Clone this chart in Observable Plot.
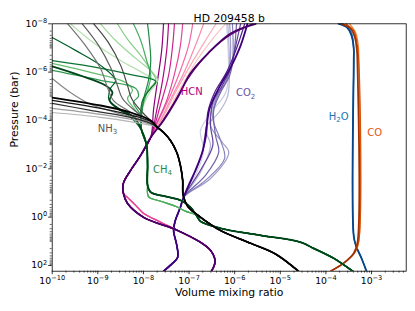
<!DOCTYPE html>
<html><head><meta charset="utf-8">
<script src="https://cdn.jsdelivr.net/npm/d3@7"></script>
<script src="https://cdn.jsdelivr.net/npm/@observablehq/plot@0.6"></script>
<style>body{margin:0;background:#fff}svg{display:block}</style>
</head><body><div id="chart"></div>
<script>
// Values are [log10 volume mixing ratio, log10 pressure (bar)]
const xTicks = [1e-10,1e-9,1e-8,1e-7,1e-6,1e-5,1e-4,1e-3];
const xTickLabels = ["10^−10","10^−9","10^−8","10^−7","10^−6","10^−5","10^−4","10^−3"];
const yTicks = [1e-8,1e-6,1e-4,1e-2,1,1e2];
const yTickLabels = ["10^−8","10^−6","10^−4","10^−2","10^0","10^2"];

// NH3 (light -> dark)
const nh3Upper = [
  [[-10,-4.33],[-8.94,-4.13],[-7.95,-3.84]],
  [[-10,-4.50],[-8.94,-4.25],[-8.06,-3.96]],
  [[-10,-5.74],[-9.60,-5.16],[-9.16,-4.67],[-8.61,-4.33],[-7.95,-3.96]],
  [[-9.66,-8.0],[-9.27,-7.10],[-8.94,-6.15],[-8.79,-5.37],[-8.66,-4.83],[-8.35,-4.42],[-7.95,-4.00]],
  [[-9.34,-8.0],[-8.98,-7.10],[-8.72,-6.19],[-8.57,-5.45],[-8.46,-4.91],[-8.17,-4.38],[-7.84,-3.96]],
  [[-9.09,-8.0],[-8.77,-7.23],[-8.50,-6.28],[-8.35,-5.45],[-8.26,-4.91],[-8.02,-4.33],[-7.80,-3.92]],
  [[-10,-4.71],[-9.16,-4.42],[-8.28,-4.13],[-7.84,-3.88]],
  [[-10,-4.83],[-8.94,-4.50],[-8.17,-4.17],[-7.80,-3.92]],
  [[-10,-4.95],[-8.94,-4.62],[-8.28,-4.33],[-7.84,-4.00]]
];
const nh3Deep = [[-7.69,-3.71],[-7.56,-3.51],[-7.41,-3.18],[-7.27,-2.68],[-7.19,-2.14],[-7.14,-1.52],[-7.13,-0.91],[-7.03,-0.45],[-6.75,0.0],[-6.31,0.55],[-5.65,1.08],[-5.10,1.53],[-4.60,2.24]];

// CH4 (light -> dark)
const ch4Upper = [
  [[-9.60,-8.0],[-9.16,-7.31],[-8.50,-6.48],[-7.95,-5.90],[-7.71,-5.57],[-7.84,-5.24],[-8.00,-4.62],[-8.06,-4.09]],
  [[-8.94,-8.0],[-8.61,-7.31],[-8.17,-6.57],[-7.80,-5.99],[-7.69,-5.66],[-7.84,-5.33],[-8.02,-4.83],[-8.06,-4.21]],
  [[-8.57,-8.0],[-8.33,-7.31],[-8.06,-6.69],[-7.84,-6.07],[-7.73,-5.66],[-7.93,-5.16],[-8.04,-4.42]],
  [[-10,-6.36],[-9.16,-5.99],[-8.39,-5.57],[-8.24,-5.24],[-8.35,-4.91],[-8.24,-4.58],[-8.06,-4.09]],
  [[-8.22,-8.0],[-8.06,-7.31],[-7.93,-6.48],[-7.84,-5.86],[-7.91,-5.24],[-8.04,-4.42]],
  [[-10,-6.07],[-8.94,-5.66],[-8.17,-5.33],[-8.11,-5.00],[-8.22,-4.75],[-8.06,-4.21]],
  [[-7.91,-8.0],[-7.87,-7.31],[-7.84,-6.48],[-7.89,-5.66],[-8.00,-4.83]],
  [[-10,-6.48],[-9.16,-6.24],[-8.28,-5.90],[-7.73,-5.62],[-7.84,-5.33],[-8.02,-4.83]],
  [[-10,-7.43],[-9.49,-6.90],[-8.94,-6.28],[-8.61,-5.66],[-8.72,-5.33],[-8.76,-4.87],[-8.61,-4.54],[-8.33,-4.21]],
  [[-10,-6.24],[-9.38,-5.86],[-8.83,-5.45],[-8.68,-5.16],[-8.74,-4.83],[-8.55,-4.50],[-8.20,-4.13]]
];
const ch4DeepLight = [[-8.04,-3.59],[-7.93,-2.97],[-7.91,-2.15],[-7.91,-1.32],[-7.89,-0.85],[-7.62,-0.66],[-7.30,-0.45],[-7.07,-0.24],[-6.84,-0.08],[-6.75,0.17],[-6.31,0.46],[-5.43,0.75],[-4.55,1.04],[-4.27,1.29],[-3.83,1.70],[-3.41,2.24]];
const ch4DeepDark = [[-8.04,-3.59],[-7.93,-2.97],[-7.91,-2.15],[-7.91,-1.32],[-7.84,-1.03],[-7.52,-0.86],[-7.19,-0.70],[-6.97,-0.41],[-6.84,-0.08],[-6.75,0.17],[-6.31,0.46],[-5.43,0.75],[-4.55,1.04],[-4.27,1.29],[-3.83,1.70],[-3.41,2.24]];

// HCN (light -> dark)
const hcnUpper = [
  [[-6.20,-8.0],[-6.48,-7.39],[-6.83,-6.48],[-7.19,-5.33],[-7.51,-4.21]],
  [[-6.41,-8.0],[-6.64,-7.31],[-6.97,-6.28],[-7.30,-5.16],[-7.58,-4.09]],
  [[-6.68,-8.0],[-6.86,-7.10],[-7.09,-6.07],[-7.36,-5.04],[-7.63,-4.00]],
  [[-6.92,-8.0],[-7.01,-7.10],[-7.19,-6.07],[-7.41,-5.04],[-7.67,-4.00]],
  [[-7.14,-8.0],[-7.19,-7.10],[-7.30,-6.07],[-7.49,-4.83],[-7.73,-3.80]],
  [[-7.32,-8.0],[-7.36,-7.10],[-7.45,-5.86],[-7.63,-4.62]],
  [[-7.45,-8.0],[-7.49,-6.90],[-7.58,-5.66],[-7.71,-4.42]],
  [[-7.56,-8.0],[-7.60,-6.90],[-7.69,-5.66],[-7.78,-4.42]],
  [[-5.61,-8.0],[-6.18,-7.43],[-6.68,-6.57],[-7.05,-5.66],[-7.34,-4.70],[-7.63,-3.84]],
  [[-5.54,-8.0],[-6.09,-7.60],[-6.59,-6.77],[-6.97,-5.95],[-7.25,-4.95],[-7.56,-4.00]]
];
const hcnDeepLight = [[-7.84,-3.30],[-8.06,-2.56],[-8.28,-1.94],[-8.44,-1.40],[-8.44,-0.99],[-8.35,-0.82],[-8.17,-0.49],[-8.00,-0.16],[-7.62,0.21],[-7.25,0.55],[-6.75,1.04],[-6.53,1.37],[-6.44,1.70],[-6.44,1.95],[-6.51,2.24]];
const hcnDeepDark = [[-7.84,-3.30],[-8.06,-2.56],[-8.28,-1.94],[-8.44,-1.40],[-8.44,-0.99],[-8.35,-0.57],[-8.00,0.0],[-7.25,0.55],[-6.75,1.04],[-6.53,1.37],[-6.44,1.70],[-6.44,1.95],[-6.51,2.24]];

// CO2 (light -> dark)
const co2Upper = [
  [[-6.18,-8.0],[-6.18,-5.24],[-6.48,-4.42],[-6.75,-3.59],[-6.68,-2.76],[-6.86,-1.73]],
  [[-6.15,-8.0],[-6.15,-5.04],[-6.35,-4.33],[-6.64,-3.67],[-6.53,-2.97],[-6.75,-1.85]],
  [[-6.11,-8.0],[-6.11,-6.28],[-6.27,-5.45],[-6.48,-4.62],[-6.53,-3.79],[-6.27,-3.09],[-6.13,-2.68],[-6.53,-1.60]],
  [[-6.05,-8.0],[-6.05,-6.48],[-6.18,-5.66],[-6.40,-4.91],[-6.48,-4.09],[-6.31,-3.18],[-6.22,-2.43],[-6.64,-1.52]],
  [[-5.96,-8.0],[-6.02,-6.69],[-6.11,-5.86],[-6.31,-5.16],[-6.46,-4.42],[-6.42,-3.38],[-6.35,-2.68],[-6.64,-1.73]],
  [[-5.87,-8.0],[-6.00,-6.90],[-6.09,-6.15],[-6.27,-5.45],[-6.48,-4.75],[-6.53,-3.79],[-6.48,-2.97],[-6.75,-1.94]],
  [[-5.78,-8.0],[-5.96,-6.98],[-6.18,-5.99],[-6.44,-5.16],[-6.59,-4.33],[-6.62,-3.38],[-6.75,-2.43],[-6.97,-1.44]],
  [[-5.72,-8.0],[-5.87,-7.10],[-6.09,-6.19],[-6.35,-5.33],[-6.55,-4.50],[-6.62,-3.67],[-6.70,-2.76],[-6.86,-1.94],[-7.01,-1.32]]
];
const co2Deep = [[-7.12,-0.82],[-7.19,-0.41],[-7.30,0.13],[-7.34,0.54],[-7.27,1.16],[-7.25,1.66],[-7.41,1.99],[-7.56,2.24]];

// H2O (light -> dark)
const h2oUpper = [
  [[-3.54,-8.0],[-3.46,-7.76],[-3.41,-7.43],[-3.39,-6.90]],
  [[-3.63,-8.0],[-3.50,-7.81],[-3.43,-7.48],[-3.39,-6.90]],
  [[-3.72,-8.0],[-3.54,-7.85],[-3.44,-7.52],[-3.39,-6.98]]
];
const h2oDeep = [[-3.39,-6.48],[-3.39,0.79],[-3.33,1.24],[-3.22,1.70],[-3.11,2.24]];

// CO (light -> dark)
const coUpper = [
  [[-3.48,-8.0],[-3.35,-7.64],[-3.29,-7.10]],
  [[-3.57,-8.0],[-3.39,-7.72],[-3.32,-7.23]],
  [[-3.66,-8.0],[-3.46,-7.81],[-3.37,-7.48],[-3.32,-6.90]]
];
const coDeepLight = [[-3.28,-6.48],[-3.28,1.0],[-3.36,1.45],[-3.61,1.90],[-3.90,2.24]];
const coDeepDark = [[-3.31,-6.48],[-3.31,1.08],[-3.39,1.49],[-3.61,1.90],[-3.90,2.24]];

// Species labels: [text, log10 VMR, log10 P]
const labelText = ["NH_3","HCN","CO_2","CH_4","H_2O","CO"];
const labelX = [-8.79,-6.94,-5.76,-7.58,-3.72,-2.93];
const labelY = [-3.67,-5.20,-5.14,-1.98,-4.17,-3.47];
const labelColor = ["#555555","#ae017e","#6a51a3","#238b45","#2171b5","#e6550d"];

const title = "HD 209458 b";
const xLabel = "Volume mixing ratio";
const yLabel = "Pressure (bar)";

// ---- build marks ----
function family(upper, deepLight, deepDark, interp, t0, t1) {
  const n = upper.length;
  return upper.map((u, i) => {
    const t = n === 1 ? t1 : t0 + (t1 - t0) * i / (n - 1);
    const deep = i < n / 2 ? deepLight : deepDark;
    const pts = u.concat(deep);
    return Plot.line(pts, {
      x: d => Math.pow(10, d[0]), y: d => Math.pow(10, d[1]),
      stroke: interp(t), strokeWidth: i === n - 1 ? 1.8 : 1.2,
      curve: "catmull-rom", clip: true
    });
  });
}

const minorX = [];
for (let e = -10; e <= -3; e++) for (let k = 2; k <= 9; k++) { const v = k * Math.pow(10, e); if (v <= 5.75e-3) minorX.push(v); }
const minorY = [];
for (let e = -8; e <= 2; e++) for (let k = 1; k <= 9; k++) {
  const v = k * Math.pow(10, e);
  if (k === 1 && e % 2 === 0) continue;
  if (v <= 172) minorY.push(v);
}

const fmtX = d => xTickLabels[xTicks.indexOf(d)];
const fmtY = d => yTickLabels[yTicks.indexOf(d)];

const marks = [
  ...family(h2oUpper, h2oDeep, h2oDeep, d3.interpolateBlues, 0.6, 0.92),
  ...family(coUpper, coDeepLight, coDeepDark, d3.interpolateOranges, 0.55, 0.9),
  ...family(co2Upper, co2Deep, co2Deep, d3.interpolatePurples, 0.3, 1.0),
  ...family(hcnUpper, hcnDeepLight, hcnDeepDark, d3.interpolateRdPu, 0.25, 1.0),
  ...family(ch4Upper, ch4DeepLight, ch4DeepDark, d3.interpolateGreens, 0.3, 1.0),
  ...family(nh3Upper, nh3Deep, nh3Deep, d3.interpolateGreys, 0.4, 1.0),
  Plot.frame({stroke: "#000", strokeWidth: 0.8}),
  Plot.axisX(minorX, {anchor: "bottom", tickSize: 2, tickFormat: () => "", label: null, strokeWidth: 0.6}),
  Plot.axisY(minorY, {anchor: "left", tickSize: 2, tickFormat: () => "", label: null, strokeWidth: 0.6}),
  Plot.axisX(xTicks, {anchor: "bottom", tickSize: 3.5, tickPadding: 2.5, tickFormat: fmtX, label: null, fontSize: 9.3, strokeWidth: 0.8}),
  Plot.axisY(yTicks, {anchor: "left", tickSize: 3.5, tickPadding: 1.5, tickFormat: fmtY, label: null, fontSize: 9.3, strokeWidth: 0.8}),
  Plot.text(labelText, {
    x: (d, i) => Math.pow(10, labelX[i]), y: (d, i) => Math.pow(10, labelY[i]),
    text: d => d, fill: (d, i) => labelColor[i], fontSize: 10
  }),
  Plot.text([title], {frameAnchor: "top", dy: -9.3, text: d => d, fontSize: 10.8, fill: "#000"}),
  Plot.text([xLabel], {frameAnchor: "bottom", dy: 24.8, text: d => d, fontSize: 10.8, fill: "#000"}),
  Plot.text([yLabel], {frameAnchor: "left", dx: -37.5, rotate: -90, text: d => d, fontSize: 10.8, fill: "#000"})
];

const svg = Plot.plot({
  width: 415, height: 311,
  marginLeft: 51.7, marginRight: 9.3, marginTop: 23.3, marginBottom: 40.3,
  x: {type: "log", domain: [1e-10, 5.75e-3], axis: null},
  y: {type: "log", domain: [1e-8, 172], reverse: true, axis: null},
  color: {type: "identity"},
  style: {fontFamily: "'DejaVu Sans', sans-serif", background: "#fff", color: "#000"},
  marks
});

// super/subscript rendering
d3.select(svg).selectAll("text").each(function () {
  const s = this.textContent;
  const el = d3.select(this);
  let m = s.match(/^(.*)\^(.*)$/);
  if (m) {
    this.textContent = m[1];
    el.append("tspan").attr("dy", -3.8).attr("font-size", 6.6).text(m[2]);
    return;
  }
  m = s.match(/^(.*)_(\d)(.*)$/);
  if (m) {
    this.textContent = m[1];
    el.append("tspan").attr("dy", 2.6).attr("font-size", 7).text(m[2]);
    if (m[3]) el.append("tspan").attr("dy", -2.6).text(m[3]);
  }
});

document.getElementById("chart").appendChild(svg);
</script></body></html>
